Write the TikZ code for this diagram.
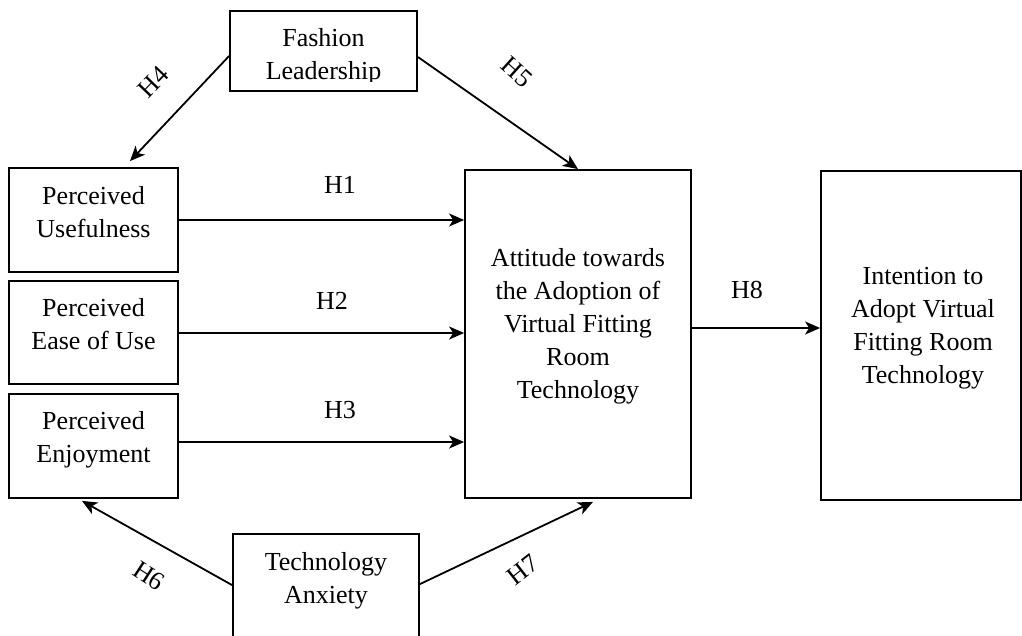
\documentclass[tikz,border=0pt]{standalone}
\usepackage{fontspec}
\setmainfont{Liberation Serif}
\usetikzlibrary{arrows.meta,calc}

\begin{document}
\begin{tikzpicture}[x=1pt,y=-1pt,
  box/.style={draw, line width=1.8pt, rectangle, inner sep=0pt},
  txt/.style={align=center, inner sep=0pt, font=\fontsize{26}{33}\selectfont,
    execute at begin node=\strut, execute at end node=\strut},
  hyp/.style={inner sep=0pt, font=\fontsize{26}{33}\selectfont},
  arr/.style={line width=1.8pt, -{Stealth[length=15pt,width=13pt,inset=4pt]}},
]
\useasboundingbox (0,0) rectangle (1022,635);
\clip (0,0) rectangle (1022,635);

% construct boxes
\node[box, minimum width=187pt, minimum height=80pt]  (fash) at (323.5,51) {};
\node[box, minimum width=169pt, minimum height=104pt] (pu)   at (93.5,220) {};
\node[box, minimum width=169pt, minimum height=103pt] (pe)   at (93.5,332.5) {};
\node[box, minimum width=169pt, minimum height=104pt] (pj)   at (93.5,446) {};
\node[box, minimum width=226pt, minimum height=328pt] (att)  at (578,334) {};
\node[box, minimum width=200pt, minimum height=329pt] (int)  at (921,335.5) {};
\node[box, minimum width=186pt, minimum height=146pt] (tech) at (326,607) {};

% box captions
\begin{scope}
  \clip (230,11) rectangle (417,81);
  \node[txt] (fasht) at (323.5,59.4) {Fashion\\Leadership};
\end{scope}
\node[txt] (put)   at (93.5,217.4) {Perceived\\Usefulness};
\node[txt] (pet)   at (93.5,329)   {Perceived\\Ease of Use};
\node[txt] (pjt)   at (93.5,442.4) {Perceived\\Enjoyment};
\node[txt] (attt)  at (578,328.4)  {Attitude towards\\the Adoption of\\Virtual Fitting\\Room\\Technology};
\node[txt] (intt)  at (923,330)    {Intention to\\Adopt Virtual\\Fitting Room\\Technology};
\node[txt] (techt) at (326,583.4)  {Technology\\Anxiety};

% hypothesised paths
\coordinate (h2s) at ([yshift=-0.5pt]pe.east);
\coordinate (h3s) at ([yshift=4pt]pj.east);
\coordinate (h8s) at ([yshift=6pt]att.east);
\draw[arr] ([yshift=-5pt]fash.west) -- ($(pu.north)+(36.5,-6)$);
\draw[arr] ([yshift=-6pt]fash.east) -- (att.north);
\draw[arr] (pu.east) -- (pu.east -| att.west);
\draw[arr] (h2s) -- (h2s -| att.west);
\draw[arr] (h3s) -- (h3s -| att.west);
\draw[arr] (h8s) -- (h8s -| int.west);
\draw[arr] ([yshift=-52pt]tech.north west) -- ($(pj.south)+(-11.5,2)$);
\draw[arr] ([yshift=-51pt]tech.north east) -- ($(att.south)+(15,3)$);

% path labels
\node[hyp, anchor=base] (h1) at (340,193) {H1};
\node[hyp, anchor=base] (h2) at (332,309) {H2};
\node[hyp, anchor=base] (h3) at (340,418) {H3};
\node[hyp, anchor=base] (h8) at (747,298) {H8};
\node[hyp, rotate=46]  (h4) at (153,82)  {H4};
\node[hyp, rotate=-42] (h5) at (517,72)  {H5};
\node[hyp, rotate=-33] (h6) at (149,576) {H6};
\node[hyp, rotate=38]  (h7) at (523,570) {H7};
\end{tikzpicture}
\end{document}
